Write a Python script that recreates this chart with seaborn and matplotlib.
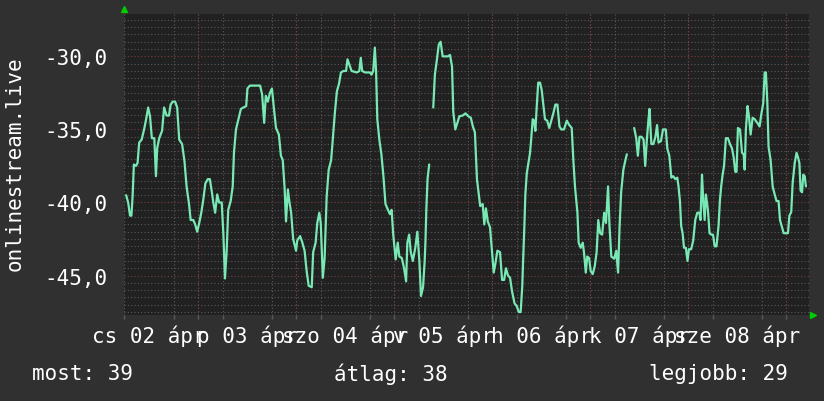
import matplotlib.pyplot as plt
import matplotlib.ticker as mticker
import numpy as np
import pandas as pd
import seaborn as sns

# (hours since 2 Apr 00:00, rank) - NaN = no data
apr02 = [(6.4, -39.5), (6.9, -40.0), (7.35, -40.9), (7.7, -40.9), (8.0, -39.5), (8.3, -37.4),
         (8.8, -37.5), (9.2, -37.3), (9.6, -35.9), (10.2, -35.7), (10.8, -35.0), (11.3, -34.3),
         (11.8, -33.5), (12.25, -34.1), (12.7, -35.6), (13.3, -35.6), (13.7, -38.2), (14.0, -36.3),
         (14.5, -35.6), (15.2, -35.1), (15.7, -33.5), (16.3, -34.05), (16.9, -34.05), (17.3, -33.3),
         (17.8, -33.1), (18.4, -33.1), (18.9, -33.5), (19.4, -35.7), (20.1, -36.0), (20.7, -37.2),
         (21.2, -38.9), (21.8, -40.1), (22.2, -41.2), (22.85, -41.2), (23.3, -41.5), (23.8, -42.0)]
apr03 = [(24.3, -41.4), (24.8, -40.7), (25.3, -39.8), (25.8, -38.7), (26.4, -38.4), (26.9, -38.4),
         (27.4, -39.3), (27.75, -40.0), (28.2, -40.7), (28.7, -39.45), (29.15, -40.0), (29.8, -40.0),
         (30.2, -42.1), (30.6, -45.2), (31.0, -43.4), (31.4, -40.5), (32.0, -39.9), (32.5, -38.9),
         (32.8, -36.6), (33.3, -35.0), (33.9, -34.3), (34.5, -33.6), (35.1, -33.5), (35.8, -33.4),
         (36.1, -32.2), (36.7, -32.0), (39.2, -32.0), (39.7, -32.6), (40.2, -34.55), (40.6, -32.7),
         (41.1, -33.1), (41.6, -32.5), (42.1, -32.2), (42.6, -33.6), (43.1, -34.9), (43.8, -35.35),
         (44.3, -36.8), (44.75, -37.1), (45.2, -39.0), (45.55, -41.3), (46.0, -39.1), (46.4, -40.0),
         (46.8, -40.7), (47.3, -42.5)]
apr04 = [(48.0, -43.3), (48.3, -42.6), (49.0, -42.3), (49.55, -42.75), (50.1, -43.3), (50.6, -44.7),
         (51.1, -45.7), (51.85, -45.8), (52.2, -43.4), (52.8, -42.75), (53.2, -41.4), (53.7, -40.7),
         (54.05, -41.4), (54.56, -45.15), (55.0, -43.8), (55.5, -39.6), (56.0, -37.75), (56.6, -37.1),
         (57.0, -35.7), (57.5, -33.9), (58.0, -32.4), (58.5, -31.9), (59.0, -31.1), (59.6, -31.0),
         (60.25, -31.0), (60.6, -30.2), (61.1, -30.6), (61.6, -31.0), (62.9, -31.1), (63.5, -31.0),
         (63.85, -30.1), (64.2, -31.0), (64.9, -31.1), (66.1, -31.1), (66.5, -31.25), (66.9, -31.0),
         (67.3, -29.4), (67.6, -31.0), (67.9, -34.3), (68.4, -35.7), (68.9, -36.7), (69.4, -38.2),
         (69.9, -40.1), (70.5, -40.5), (71.0, -40.8), (71.4, -40.5), (71.8, -42.2)]
apr05 = [(72.4, -43.9), (72.9, -42.75), (73.3, -43.7), (73.9, -43.8), (74.45, -44.5), (74.95, -45.4),
         (75.25, -42.75), (75.7, -42.2), (76.1, -43.4), (76.6, -44.0), (77.2, -43.1), (77.7, -42.0),
         (78.2, -44.0), (78.6, -46.4), (79.1, -45.8), (79.5, -44.0), (79.7, -42.6), (79.9, -40.5),
         (80.2, -38.4), (80.6, -37.4), (81.1, np.nan), (81.6, -33.5), (82.0, -31.25), (82.5, -30.2),
         (82.95, -29.2), (83.4, -29.0), (83.9, -30.0), (84.6, -30.0), (85.2, -30.0), (85.7, -29.9),
         (86.2, -30.7), (86.5, -33.8), (87.0, -35.0), (87.5, -34.55), (88.0, -34.1), (88.8, -34.05),
         (89.5, -33.9), (90.2, -34.1), (90.8, -34.2), (91.3, -34.8), (91.8, -35.2), (92.3, -38.4),
         (92.75, -39.45), (93.1, -40.25), (93.7, -40.1), (94.1, -41.5), (94.5, -40.4), (94.95, -41.3),
         (95.5, -41.7)]
apr06 = [(96.0, -43.4), (96.4, -44.8), (96.8, -44.2), (97.3, -43.3), (97.95, -43.4), (98.45, -45.3),
         (98.95, -45.3), (99.4, -44.5), (99.9, -45.0), (100.4, -45.15), (100.9, -46.1), (101.5, -46.9),
         (102.05, -47.1), (102.55, -47.5), (103.0, -47.5), (103.4, -45.7), (103.6, -44.0), (103.9, -41.7),
         (104.15, -39.45), (104.5, -38.0), (104.9, -37.3), (105.3, -36.6), (105.6, -35.6), (105.95, -34.3),
         (106.3, -34.4), (106.6, -35.1), (106.9, -33.6), (107.3, -31.8), (107.75, -31.8), (108.15, -32.3),
         (108.55, -33.3), (108.95, -34.3), (109.5, -34.4), (110.0, -34.9), (110.5, -34.4), (111.0, -33.9),
         (111.5, -33.3), (112.0, -33.3), (112.5, -34.8), (112.95, -35.0), (113.6, -35.0), (114.3, -34.4),
         (114.9, -34.7), (115.5, -34.9), (115.9, -37.1), (116.3, -38.9), (116.9, -40.7), (117.2, -42.75),
         (117.7, -43.1), (118.2, -42.75), (118.5, -43.4), (118.95, -44.8), (119.3, -43.7), (119.75, -43.8)]
apr07 = [(120.15, -44.7), (120.65, -44.9), (121.15, -44.35), (121.6, -43.4), (122.0, -41.2),
         (122.45, -42.1), (122.95, -42.2), (123.45, -40.7), (123.9, -41.4), (124.4, -38.9), (124.75, -41.6),
         (125.2, -43.7), (125.9, -43.85), (126.4, -43.3), (126.85, -44.8), (127.2, -41.8), (127.6, -39.3),
         (128.15, -37.75), (128.65, -37.1), (129.0, -36.7), (129.8, np.nan), (130.8, -34.9), (131.3, -35.6),
         (131.7, -36.8), (132.1, -35.5), (132.6, -35.5), (133.1, -35.7), (133.5, -37.5), (133.9, -35.7),
         (134.3, -34.3), (134.55, -33.6), (135.0, -36.0), (135.5, -36.0), (136.0, -35.5), (136.4, -34.7),
         (136.75, -35.9), (137.35, -35.8), (137.85, -35.0), (138.55, -35.0), (138.9, -36.3), (139.4, -36.8),
         (139.9, -38.3), (140.35, -38.2), (140.85, -38.4), (141.35, -38.3), (141.65, -38.9), (142.0, -39.9),
         (142.3, -41.6), (142.65, -42.1), (143.0, -43.1), (143.45, -43.1), (143.85, -44.0)]
apr08 = [(144.2, -43.2), (144.75, -43.2), (145.25, -42.6), (145.75, -41.2), (146.25, -40.7),
         (146.75, -40.7), (147.05, -41.2), (147.4, -38.1), (147.7, -39.8), (148.05, -41.2), (148.35, -39.45),
         (148.85, -40.5), (149.25, -42.1), (149.65, -42.2), (150.1, -42.2), (150.5, -43.0), (150.95, -43.0),
         (151.45, -41.6), (151.8, -39.8), (152.1, -38.9), (152.45, -38.1), (152.8, -37.5), (153.25, -35.6),
         (153.75, -35.6), (154.25, -36.0), (154.75, -36.3), (155.15, -36.9), (155.55, -37.9), (155.85, -37.9),
         (156.2, -34.9), (156.7, -35.0), (157.2, -36.6), (157.6, -36.7), (157.85, -37.75), (158.15, -35.0),
         (158.55, -33.4), (158.9, -34.1), (159.3, -35.35), (159.8, -34.2), (160.3, -34.3), (160.95, -34.55),
         (161.5, -34.8), (161.9, -34.0), (162.4, -33.2), (162.75, -31.1), (163.05, -31.1), (163.4, -33.2),
         (163.7, -36.2), (164.2, -37.1), (164.7, -38.9), (165.2, -39.45), (165.65, -39.9), (166.15, -39.9),
         (166.5, -41.2), (167.0, -41.7), (167.4, -42.1)]
apr09 = [(168.45, -42.1), (168.8, -40.9), (169.25, -40.65), (169.6, -38.65), (170.1, -37.3),
         (170.55, -36.6), (170.9, -36.9), (171.25, -37.3), (171.55, -39.2), (171.9, -39.3), (172.2, -38.1),
         (172.55, -38.2), (172.85, -38.9)]

day_ticks = [12, 36, 60, 84, 108, 132, 156]
day_labels = ["cs 02 ápr", "p 03 ápr", "szo 04 ápr", "v 05 ápr",
              "h 06 ápr", "k 07 ápr", "sze 08 ápr"]
y_ticks = [-30, -35, -40, -45]
y_labels = ["-30,0", "-35,0", "-40,0", "-45,0"]
summary = ["most: 39", "átlag: 38", "legjobb: 29"]

df = pd.DataFrame(apr02 + apr03 + apr04 + apr05 + apr06 + apr07 + apr08 + apr09,
                  columns=["hour", "rank"])
df["seg"] = df["rank"].isna().cumsum()
df = df.dropna()

bg = "#303030"
plot_bg = "#212121"
sns.set_theme(style="dark", rc={"figure.facecolor": bg, "axes.facecolor": plot_bg})
plt.rcParams["font.family"] = ["DejaVu Sans Mono"]

fig = plt.figure(figsize=(8.24, 4.02), dpi=100)
ax = fig.add_axes([124 / 824, 86 / 402, 685 / 824, 301 / 402])

# grid: 6h / 0.5 gray, day / 5 red
ax.xaxis.set_minor_locator(mticker.MultipleLocator(6))
ax.yaxis.set_minor_locator(mticker.MultipleLocator(0.5))
ax.grid(which="minor", color="#5a5a5a", linestyle=(0, (1, 2)), linewidth=0.8)
ax.grid(which="major", visible=False)
for d in [24, 48, 72, 96, 120, 144, 168]:
    ax.axvline(d, color="#7a3c3c", linestyle=(0, (1, 2)), linewidth=0.8, zorder=1)
for v in y_ticks:
    ax.axhline(v, color="#7a3c3c", linestyle=(0, (1, 2)), linewidth=0.8, zorder=1)

sns.lineplot(data=df, x="hour", y="rank", units="seg", estimator=None,
             color="#78e8b4", linewidth=1.6, ax=ax, zorder=3)

ax.set_xlim(5.88, 173.6)
ax.set_ylim(-47.7, -27.1)
ax.set_xticks(day_ticks)
ax.set_xticklabels(day_labels)
ax.set_yticks(y_ticks)
ax.set_yticklabels(y_labels)
ax.tick_params(axis="both", which="major", length=0, labelsize=15, colors="white")
ax.tick_params(axis="x", which="major", pad=7)
ax.tick_params(axis="y", which="major", pad=12)
ax.tick_params(axis="x", which="minor", length=3, color="#5a5a5a", bottom=True)
ax.tick_params(axis="y", which="minor", length=0)
ax.set_xlabel("")
ax.set_ylabel("")
for s in ax.spines.values():
    s.set_visible(False)

# green arrows at axis ends
ax.plot([0], [1.017], marker="^", color="#00cc00", markersize=5,
        transform=ax.transAxes, clip_on=False)
ax.plot([1.006], [0], marker=">", color="#00cc00", markersize=5,
        transform=ax.transAxes, clip_on=False)

fig.text(15 / 824, 0.5 + 37 / 402, "onlinestream.live", rotation=90, ha="center",
         va="center", color="white", fontsize=15)
fig.text(32 / 824, 1 - 374 / 402, summary[0], ha="left", va="center", color="white", fontsize=15)
fig.text(334 / 824, 1 - 374 / 402, summary[1], ha="left", va="center", color="white", fontsize=15)
fig.text(649 / 824, 1 - 374 / 402, summary[2], ha="left", va="center", color="white", fontsize=15)

fig.savefig("out.png", dpi=100, facecolor=bg)
